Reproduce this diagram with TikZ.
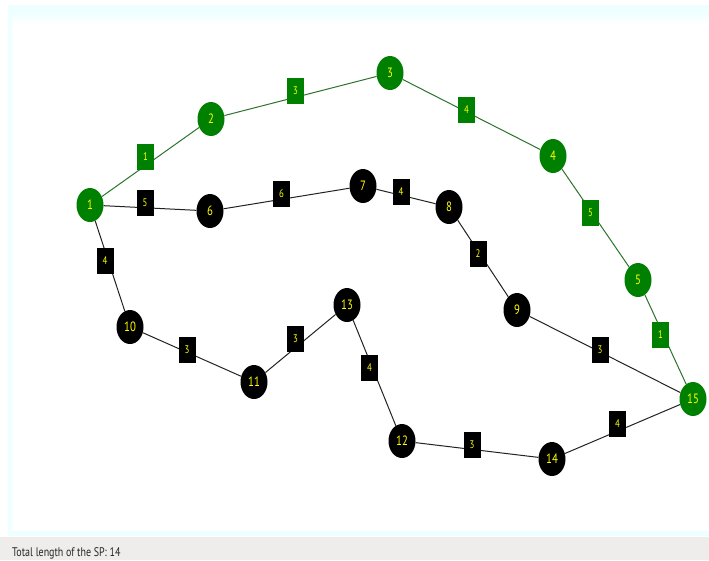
\documentclass[tikz,border=0pt]{standalone}
\usepackage{fontspec}
\setmainfont{PT Sans}
\newfontfamily\narrowfont[FakeStretch=0.8]{PT Sans}
\usetikzlibrary{shapes.geometric}
\definecolor{pathgreen}{RGB}{0,128,0}
\definecolor{pathline}{RGB}{45,115,45}
\definecolor{edgeline}{RGB}{35,35,35}
\definecolor{lbltext}{RGB}{255,255,0}
\definecolor{framecyan}{RGB}{238,255,255}
\definecolor{bargray}{RGB}{239,237,235}
\tikzset{
  vtx/.style={ellipse, draw=none, minimum width=27pt, minimum height=34pt, inner sep=0pt,
    text=lbltext, font=\narrowfont\fontsize{13.5}{13.5}\selectfont},
  gv/.style={vtx, fill=pathgreen},
  bv/.style={vtx, fill=black},
  lbl/.style={rectangle, minimum width=17pt, minimum height=26pt, inner sep=0pt,
    text=lbltext, font=\narrowfont\fontsize{11}{11}\selectfont, midway, xshift=-5pt, yshift=5pt},
  gl/.style={lbl, fill=pathgreen},
  bl/.style={lbl, fill=black},
  ge/.style={draw=pathline, line width=1pt},
  be/.style={draw=edgeline, line width=1pt}
}
\begin{document}
\begin{tikzpicture}[x=1pt,y=-1pt]
\useasboundingbox (0,0) rectangle (709,560);
% window background
\fill[white] (0,0) rectangle (709,560);
\fill[framecyan] (8,5) rectangle (709,536);
\shade[top color=framecyan, bottom color=white] (12,12) rectangle (709,24);
\fill[white] (12,24) rectangle (709,531);
\fill[bargray] (0,537) rectangle (709,560);
\node[anchor=base west, inner sep=0pt, font=\narrowfont\fontsize{12.5}{12.5}\selectfont, text=black!85] (total) at (12,556) {Total length of the SP: 14};
% vertices
\node[gv] (n1)  at (90,205)  {1};
\node[gv] (n2)  at (211,119) {2};
\node[gv] (n3)  at (390,73)  {3};
\node[gv] (n4)  at (553,156) {4};
\node[gv] (n5)  at (638,280) {5};
\node[gv] (n15) at (693,399) {15};
\node[bv] (n6)  at (210,211) {6};
\node[bv] (n7)  at (363,186) {7};
\node[bv] (n8)  at (449,207) {8};
\node[bv] (n9)  at (517,310) {9};
\node[bv] (n10) at (130,327) {10};
\node[bv] (n11) at (254,382) {11};
\node[bv] (n13) at (347,305) {13};
\node[bv] (n12) at (402,441) {12};
\node[bv] (n14) at (552,459) {14};
% shortest path edges
\path[ge] (n1) -- (n2) node[gl] (w12) {1};
\path[ge] (n2) -- (n3) node[gl] (w23) {3};
\path[ge] (n3) -- (n4) node[gl] (w34) {4};
\path[ge] (n4) -- (n5) node[gl] (w45) {5};
\path[ge] (n5) -- (n15) node[gl] (w515) {1};
% other edges
\path[be] (n1) -- (n6) node[bl] (w16) {5};
\path[be] (n6) -- (n7) node[bl] (w67) {6};
\path[be] (n7) -- (n8) node[bl] (w78) {4};
\path[be] (n8) -- (n9) node[bl] (w89) {2};
\path[be] (n9) -- (n15) node[bl] (w915) {3};
\path[be] (n1) -- (n10) node[bl] (w110) {4};
\path[be] (n10) -- (n11) node[bl] (w1011) {3};
\path[be] (n11) -- (n13) node[bl] (w1113) {3};
\path[be] (n13) -- (n12) node[bl] (w1312) {4};
\path[be] (n12) -- (n14) node[bl] (w1214) {3};
\path[be] (n14) -- (n15) node[bl] (w1415) {4};
\end{tikzpicture}
\end{document}
